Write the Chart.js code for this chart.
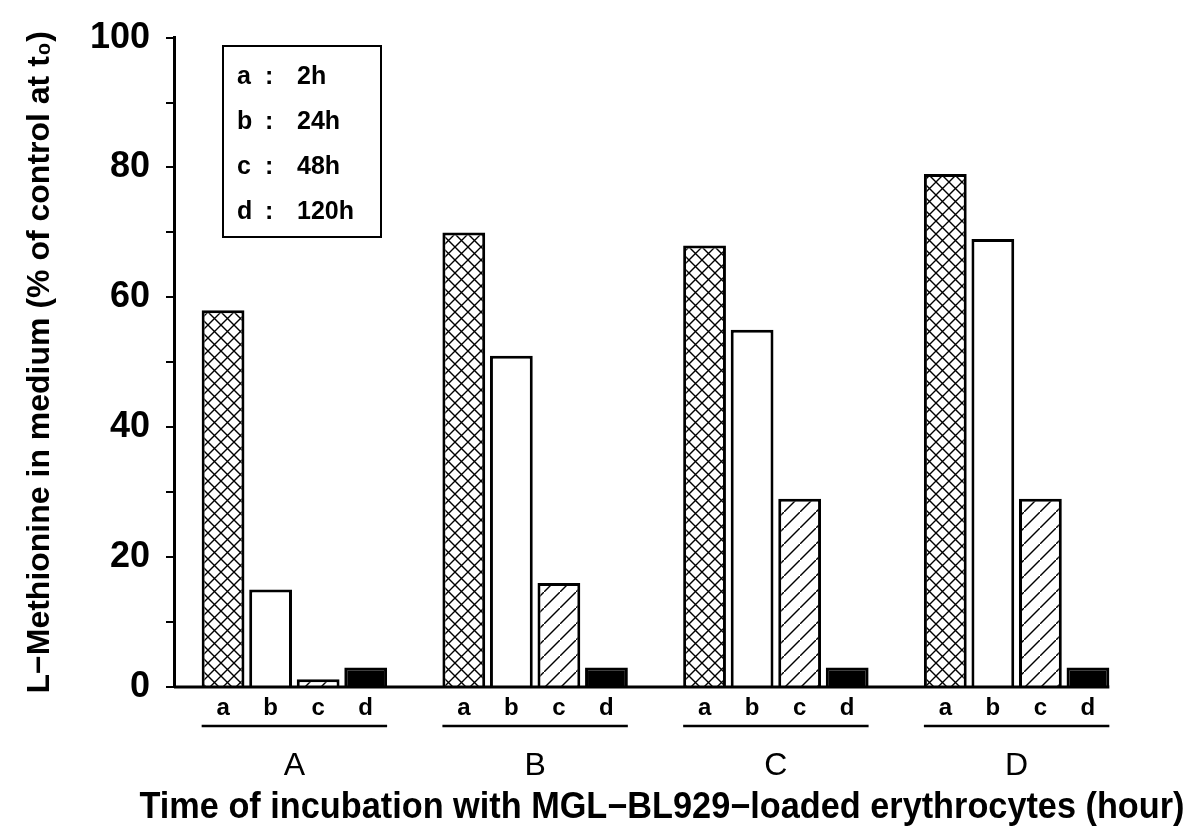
<!DOCTYPE html>
<html>
<head>
<meta charset="utf-8">
<script src="https://cdn.jsdelivr.net/npm/chart.js@4.4.1/dist/chart.umd.min.js"></script>
<style>
  body { margin: 0; background: #fff; }
  canvas { display: block; }
</style>
</head>
<body>
<canvas id="c" width="1192" height="834"></canvas>
<script>
// groups on the x axis and the four incubation times (bars inside a group)
const groups = ["A", "B", "C", "D"];
const barKeys = ["a", "b", "c", "d"];
const hours = ["2h", "24h", "48h", "120h"];

// L-Methionine in medium, % of control at t0
const val2h = [58, 70, 68, 79];
const val24h = [15, 51, 55, 69];
const val48h = [1.2, 16, 29, 29];
const val120h = [3, 3, 3, 3];

const yTicks = [0, 20, 40, 60, 80, 100];
const xTitle = "Time of incubation with MGL\u2212BL929\u2212loaded erythrocytes (hour)";

const FONT = "'Liberation Sans', Arial, Helvetica, sans-serif";
const canvas = document.getElementById("c");
const ctx = canvas.getContext("2d");

function tile(size, draw) {
	const t = document.createElement("canvas");
	t.width = t.height = size;
	const g = t.getContext("2d");
	g.fillStyle = "#fff";
	g.fillRect(0, 0, size, size);
	g.strokeStyle = "#000";
	g.lineWidth = 1.4;
	g.beginPath();
	draw(g, size);
	g.stroke();
	return ctx.createPattern(t, "repeat");
}

// cross hatch for 2h, single diagonal for 48h
const crossFill = tile(13, function (g, s) {
	g.moveTo(-2, -2); g.lineTo(s + 2, s + 2);
	g.moveTo(s + 2, -2); g.lineTo(-2, s + 2);
});
const hatchFill = tile(16, function (g, s) {
	g.moveTo(-2, s + 2); g.lineTo(s + 2, -2);
});

const fills = [crossFill, "#ffffff", hatchFill, "#000000"];
const values = [val2h, val24h, val48h, val120h];

// baseline, bar letters, group underlines, key box and x title
const extras = {
	id: "extras",
	afterDatasetsDraw: function (chart) {
		const c = chart.ctx;
		const area = chart.chartArea;
		const first = chart.getDatasetMeta(0).data;
		const last = chart.getDatasetMeta(3).data;
		c.save();
		c.fillStyle = "#000";
		c.strokeStyle = "#000";

		// x baseline stops at the last bar
		const endBar = last[last.length - 1];
		c.lineWidth = 3;
		c.beginPath();
		c.moveTo(area.left, area.bottom);
		c.lineTo(endBar.x + endBar.width / 2, area.bottom);
		c.stroke();

		// letters under each bar
		c.font = "bold 24px " + FONT;
		c.textAlign = "center";
		c.textBaseline = "middle";
		for (let i = 0; i < barKeys.length; i++) {
			chart.getDatasetMeta(i).data.forEach(function (bar) {
				c.fillText(barKeys[i], bar.x, area.bottom + 21);
			});
		}

		// underline per group
		c.lineWidth = 2.5;
		for (let j = 0; j < groups.length; j++) {
			const l = first[j].x - first[j].width / 2;
			const r = last[j].x + last[j].width / 2;
			c.beginPath();
			c.moveTo(l, area.bottom + 39);
			c.lineTo(r, area.bottom + 39);
			c.stroke();
		}

		// x title, wider than the plot area
		c.font = "bold 36px " + FONT;
		c.fillText(xTitle, 662, 808, 1045);

		// key box
		c.lineWidth = 2;
		c.strokeRect(223, 46, 158, 191);
		c.font = "bold 25px " + FONT;
		c.textAlign = "left";
		for (let i = 0; i < barKeys.length; i++) {
			const y = 77 + i * 45;
			c.fillText(barKeys[i], 237, y);
			c.fillText(":", 265, y);
			c.fillText(hours[i], 297, y);
		}
		c.restore();
	}
};

new Chart(canvas, {
	type: "bar",
	data: {
		labels: groups,
		datasets: barKeys.map(function (k, i) {
			return {
				label: hours[i],
				data: values[i],
				backgroundColor: fills[i],
				borderColor: "#000",
				borderWidth: 3,
				categoryPercentage: 0.79,
				barPercentage: 0.9
			};
		})
	},
	options: {
		responsive: false,
		animation: false,
		layout: { padding: { left: 0, top: 36, right: 55, bottom: 0 } },
		plugins: {
			legend: { display: false },
			tooltip: { enabled: false }
		},
		scales: {
			x: {
				grid: { display: false, drawTicks: false },
				border: { display: false },
				ticks: {
					color: "#000",
					padding: 60,
					font: { family: FONT, size: 32 }
				},
				afterFit: function (s) { s.height = 147; }
			},
			y: {
				min: 0,
				max: 100,
				grid: {
					drawOnChartArea: false,
					drawTicks: true,
					tickLength: 8,
					color: "#000",
					lineWidth: 2
				},
				border: { display: true, color: "#000", width: 3 },
				ticks: {
					stepSize: 10,
					autoSkip: false,
					color: "#000",
					padding: 16,
					font: { family: FONT, size: 36, weight: "bold" },
					callback: function (v) { return yTicks.indexOf(v) >= 0 ? String(v) : ""; }
				},
				title: {
					display: true,
					text: "L\u2212Methionine in medium (% of control at t\u2080)",
					color: "#000",
					font: { family: FONT, size: 32, weight: "bold" },
					padding: { top: 21, bottom: 0 }
				},
				afterFit: function (s) { s.width = 174; }
			}
		}
	},
	plugins: [extras]
});
</script>
</body>
</html>
